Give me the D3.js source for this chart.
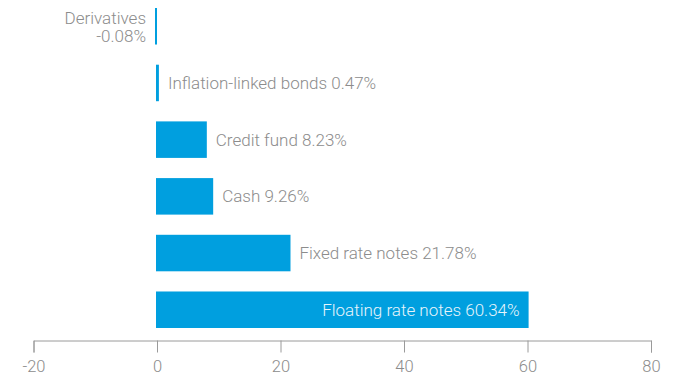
<!DOCTYPE html>
<html>
<head>
<meta charset="utf-8">
<script src="https://cdn.jsdelivr.net/npm/d3@7"></script>
<style>
  html, body { margin: 0; padding: 0; background: #fff; }
  svg { display: block; font-family: Roboto, "Liberation Sans", sans-serif; font-weight: 300; }
</style>
</head>
<body>
<svg id="chart" width="675" height="376"></svg>
<script>
// Portfolio allocation by asset type (% of fund)
const categories = ["Derivatives", "Inflation-linked bonds", "Credit fund", "Cash", "Fixed rate notes", "Floating rate notes"];
const values = [-0.08, 0.47, 8.23, 9.26, 21.78, 60.34];
const tickValues = [-20, 0, 20, 40, 60, 80];

const svg = d3.select("#chart");
const barColor = "#009fdf";
const textColor = "#8c8c8c";
const fontSize = 17;

const x = d3.scaleLinear().domain([-20, 80]).range([33.5, 651]);
const y = d3.scaleBand().domain(categories).range([8, 328]).paddingInner(0.356).paddingOuter(0);

const data = categories.map((c, i) => ({ name: c, value: values[i] }));
// plain hyphen for negatives
const fmt = v => d3.format(".2f")(v).replace("\u2212", "-") + "%";

// bars (very small values get a hairline so they stay visible)
svg.append("g").selectAll("rect").data(data).join("rect")
  .attr("x", d => d.value < 0 ? Math.min(x(d.value), x(0) - 2) : x(0) - 1)
  .attr("y", d => y(d.name))
  .attr("width", d => Math.max(2, Math.abs(x(d.value) - x(0))))
  .attr("height", y.bandwidth())
  .attr("fill", barColor);

// labels
const labels = svg.append("g").style("font-size", fontSize + "px");
data.forEach(d => {
  const cy = y(d.name) + y.bandwidth() / 2;
  if (d.value < 0) {
    // negative bars: name and value stacked on the left of the zero line
    labels.append("text")
      .attr("x", x(0) - 11).attr("y", cy - 2.5)
      .attr("text-anchor", "end").attr("fill", textColor)
      .text(d.name);
    labels.append("text")
      .attr("x", x(0) - 11).attr("y", cy + 16)
      .attr("text-anchor", "end").attr("fill", textColor)
      .text(fmt(d.value));
  } else if (d.value > 40) {
    labels.append("text")
      .attr("x", x(d.value) - 10)
      .attr("y", cy)
      .attr("dy", "0.36em")
      .attr("text-anchor", "end")
      .attr("fill", "#e6f4fb")
      .text(d.name + " " + fmt(d.value));
  } else {
    labels.append("text")
      .attr("x", Math.max(x(d.value), x(0) + 1) + 8)
      .attr("y", cy)
      .attr("dy", "0.36em")
      .attr("fill", textColor)
      .text(d.name + " " + fmt(d.value));
  }
});

// x axis
const axis = svg.append("g")
  .attr("transform", "translate(0,340.5)")
  .call(d3.axisBottom(x).tickValues(tickValues).tickSize(12).tickPadding(8)
    .tickFormat(v => String(v)));
axis.select(".domain").attr("stroke", "#9a9a9a");
axis.selectAll(".tick line").attr("stroke", "#9a9a9a");
axis.selectAll(".tick text")
  .attr("fill", textColor)
  .style("font-size", "16.5px")
  .style("font-family", "Roboto, 'Liberation Sans', sans-serif")
  .style("font-weight", 300);
</script>
</body>
</html>
